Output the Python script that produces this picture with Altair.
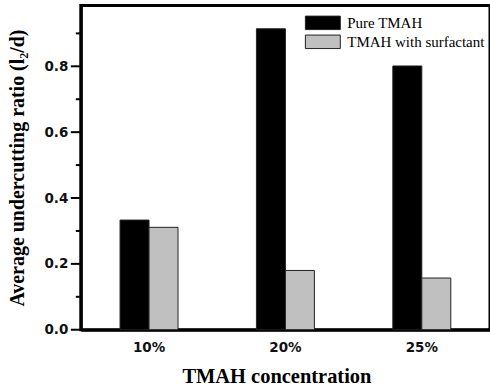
import altair as alt
import pandas as pd

concentrations = ["10%", "20%", "25%"]
series = ["Pure TMAH", "TMAH with surfactant"]
pure_tmah = [0.333, 0.914, 0.801]
with_surfactant = [0.311, 0.180, 0.157]
colors = ["#000000", "#c0c0c0"]
y_major = [0.0, 0.2, 0.4, 0.6, 0.8]
y_minor = [0.1, 0.3, 0.5, 0.7, 0.9]

rows = []
for c, a, b in zip(concentrations, pure_tmah, with_surfactant):
    rows.append({"conc": c, "series": series[0], "value": a})
    rows.append({"conc": c, "series": series[1], "value": b})
df = pd.DataFrame(rows)

serif = "Liberation Serif"
sans = "DejaVu Sans"

x = alt.X("conc:N", sort=concentrations,
          scale=alt.Scale(paddingInner=0.575, paddingOuter=0.2875),
          axis=alt.Axis(title="TMAH concentration", labelAngle=0, ticks=False, tickSize=0,
                        labelFont=sans, labelFontWeight="bold", labelFontSize=13.5, labelColor="#111",
                        labelPadding=18, labelBaseline="middle",
                        titleFont=serif, titleFontWeight="bold", titleFontSize=20.5, titleColor="#000",
                        titleX=196, titleY=47, titleBaseline="middle", titleAlign="center",
                        domainColor="#000", domainWidth=3))

y_scale = alt.Scale(domain=[0, 0.985], nice=False, zero=True)

bars = alt.Chart(df).mark_bar(stroke="#222", strokeWidth=1).encode(
    x=x,
    xOffset=alt.XOffset("series:N", sort=series, scale=alt.Scale(paddingInner=0, paddingOuter=0)),
    y=alt.Y("value:Q", scale=y_scale,
            axis=alt.Axis(title="Average undercutting ratio (l\u2082/d)", values=y_major, format=".1f",
                          labelFont=sans, labelFontWeight="bold", labelFontSize=13.5, labelColor="#111",
                          labelPadding=13, ticks=False, tickSize=0,
                          domainColor="#000", domainWidth=3, grid=False,
                          titleFont=serif, titleFontWeight="bold", titleFontSize=20, titleColor="#000",
                          titleAngle=-90, titleX=-63, titleY=162.5, titleBaseline="middle",
                          titleAlign="center")),
    color=alt.Color("series:N", sort=series,
                    scale=alt.Scale(domain=series, range=colors),
                    legend=alt.Legend(title=None, orient="none", legendX=233, legendY=8,
                                      symbolType="M-2,-0.772H2V0.772H-2Z", symbolSize=306,
                                      symbolStrokeColor="#222", symbolStrokeWidth=1,
                                      labelFont=serif, labelFontSize=15, labelColor="#000",
                                      labelOffset=15, rowPadding=-1)),
)

major_ticks = alt.Chart(pd.DataFrame({"major": y_major})).mark_rule(
    color="#000", strokeWidth=2
).encode(
    y=alt.Y("major:Q", scale=y_scale),
    x=alt.value(-10),
    x2=alt.value(0),
)

minor_ticks = alt.Chart(pd.DataFrame({"minor": y_minor})).mark_rule(
    color="#000", strokeWidth=2
).encode(
    y=alt.Y("minor:Q", scale=y_scale),
    x=alt.value(-5),
    x2=alt.value(0),
)

chart = alt.layer(bars, major_ticks, minor_ticks).properties(
    width=410, height=325,
    background="white",
    autosize=alt.AutoSizeParams(type="none"),
    padding={"left": 81, "top": 5, "right": 0, "bottom": 60},
).configure_view(stroke="#000", strokeWidth=3)

chart.save("out.html", embed_options={"renderer": "svg", "actions": False})
